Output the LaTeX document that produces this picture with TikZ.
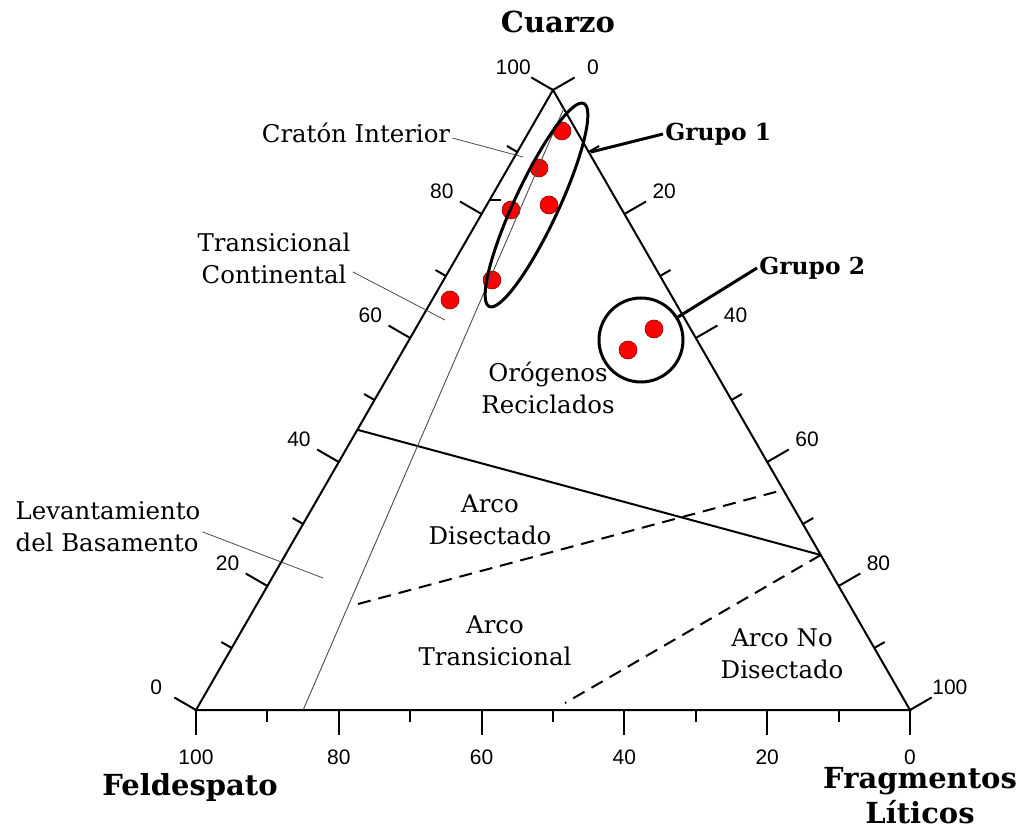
\documentclass[tikz,border=0pt]{standalone}
\usepackage{fontspec}
\setmainfont{DejaVu Serif}
\newfontfamily\numfont{Liberation Sans}
\usetikzlibrary{calc,shapes.geometric}

\begin{document}
\begin{tikzpicture}[x=0.5pt,y=0.5pt,
    axis/.style={line width=1pt},
    thinline/.style={line width=0.45pt, black!70},
    leader/.style={line width=0.4pt, black!70},
    region/.style={font=\fontsize{12.2}{16}\selectfont, align=center, inner sep=1pt},
    pole/.style={font=\bfseries\fontsize{14.5}{17.5}\selectfont, align=center, inner sep=0.5pt},
    grp/.style={font=\bfseries\fontsize{11.7}{14}\selectfont, inner sep=1pt},
    num/.style={font=\numfont\fontsize{10.5}{12}\selectfont, inner sep=0pt},
    sample/.style={circle, fill=red, draw=red!55!black, line width=0.3pt, minimum size=9pt, inner sep=0pt},
    ring/.style={draw, line width=1.5pt, inner sep=0pt}]
  \useasboundingbox (0,0) rectangle (1031,830);
  % vertices
  \coordinate (Q) at (553,740);
  \coordinate (F) at (196,120);
  \coordinate (L) at (910,120);
  % samples
  \node[sample] (p1) at (562,699) {};
  \node[sample] (p2) at (539,662) {};
  \node[sample] (p3) at (511,620) {};
  \node[sample] (p4) at (549,625) {};
  \node[sample] (p5) at (492,550) {};
  \node[sample] (p6) at (450,530) {};
  \node[sample] (p7) at (654,501) {};
  \node[sample] (p8) at (628,480) {};
  \draw[axis, line join=miter] (F) -- (Q) -- (L) -- cycle;
  % ticks and scale
  \foreach \i in {0,...,10}{
    \pgfmathtruncatemacro\len{ifthenelse(mod(\i,2)==0,25,12)}
    \draw[axis] ($(F)!\i/10!(L)$) -- ++(0,-\len);
    \draw[axis] ($(F)!\i/10!(Q)$) -- ++(150:\len);
    \draw[axis] ($(Q)!\i/10!(L)$) -- ++(30:\len);
    \ifodd\i\else
      \pgfmathtruncatemacro\v{10*\i}
      \pgfmathtruncatemacro\w{100-10*\i}
      \node[num] (b\i) at ($(F)!\i/10!(L)+(0,-47)$) {\w};
      \node[num] (q\i) at ($(F)!\i/10!(Q)+(150:46)$) {\v};
      \node[num] (l\i) at ($(Q)!\i/10!(L)+(30:46)$) {\v};
    \fi
  }
  \draw[axis] ($(F)!0.8226!(Q)$) -- ++(11,0);
  % fields
  \coordinate (o1) at ($(F)!0.452!(Q)$);
  \coordinate (o2) at ($(Q)!0.75!(L)$);
  \draw[axis] (o1) -- (o2);
  \coordinate (t1) at ($(Q)!0.03!(L)$);
  \coordinate (t2) at ($(F)!0.15!(L)$);
  \draw[thinline] (t1) -- (t2);
  \coordinate (d1) at (358,226);
  \coordinate (d2) at ($(Q)!0.645!(L)$);
  \draw[axis, dash pattern=on 6.5pt off 4pt] (d1) -- (d2);
  \coordinate (b50) at ($(F)!0.5!(L)$);
  \coordinate (d3) at ($(o2)!0.955!(b50)$);
  \draw[axis, dash pattern=on 6.5pt off 4pt] (o2) -- (d3);
  % labels
  \node[pole] (cuarzo) at (558,808) {Cuarzo};
  \node[pole] (feld) at (190,43) {Feldespato};
  \node[pole] (frag) at (920,34) {Fragmentos\\Líticos};
  \node[region] (craton) at (356,697) {Cratón Interior};
  \node[region] (trans) at (274,572) {Transicional\\Continental};
  \node[region, align=left] (levant) at (108,303) {Levantamiento\\del Basamento};
  \node[region] (orog) at (548,442) {Orógenos\\Reciclados};
  \node[region] (disec) at (490,310) {Arco\\Disectado};
  \node[region] (transarc) at (495,189) {Arco\\Transicional};
  \node[region] (nodisec) at (782,176) {Arco No\\Disectado};
  \coordinate (cr) at (523,673);
  \coordinate (tr) at (445,510);
  \coordinate (lv) at (323,252);
  \draw[leader] (craton.-3) -- (cr);
  \draw[leader] (trans.-10) -- (tr);
  \draw[leader] (levant.-3) -- (lv);
  % groups
  \node[ring, ellipse, minimum width=112pt, minimum height=22pt, rotate=65] (g1) at (536.5,625) {};
  \node[ring, circle, minimum size=42pt] (g2) at (641,490) {};
  \node[grp, anchor=west] (lab1) at (663,696) {Grupo 1};
  \node[grp, anchor=west] (lab2) at (757,562) {Grupo 2};
  \coordinate (c1) at (591,678);
  \draw[line width=1.5pt] (c1) -- (lab1.west);
  \draw[line width=1.5pt] (g2) -- (lab2.west);
\end{tikzpicture}
\end{document}
